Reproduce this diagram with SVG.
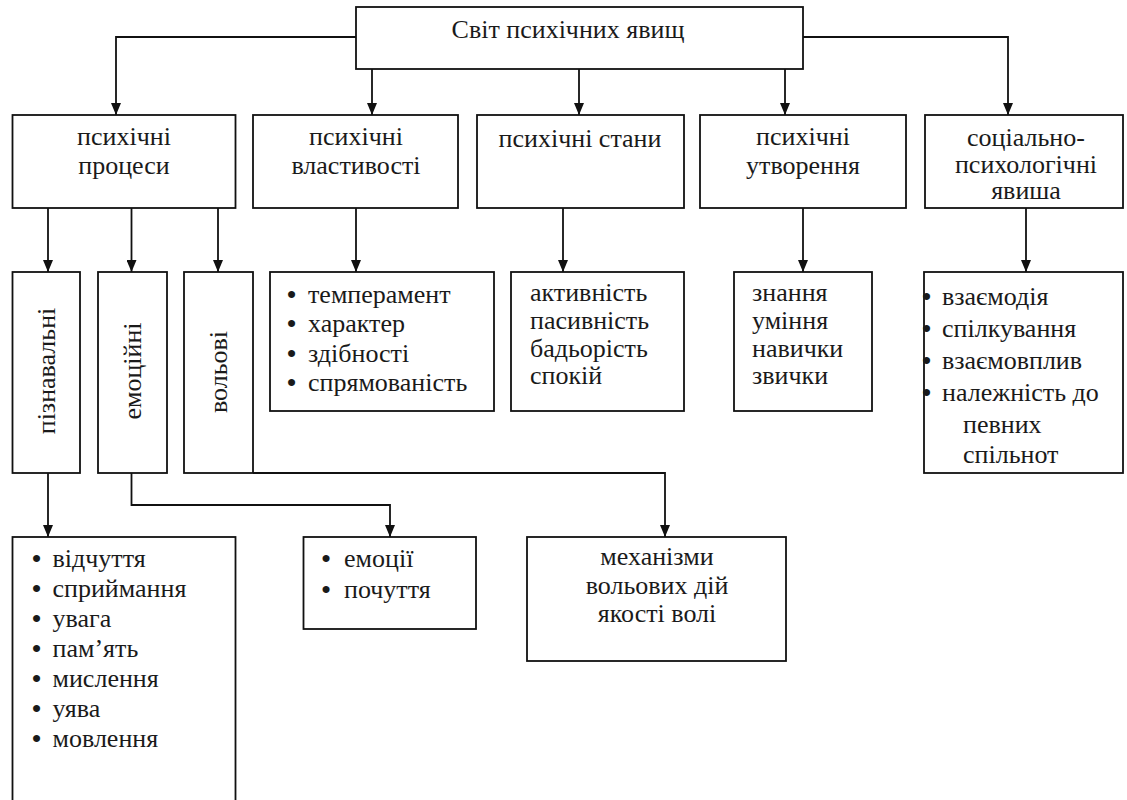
<svg xmlns="http://www.w3.org/2000/svg" width="1127" height="800" viewBox="0 0 1127 800">
<style>
.box{fill:#fff;stroke:#111;stroke-width:1.8}
.ln{fill:none;stroke:#111;stroke-width:1.8}
.t{font-family:"Liberation Serif","Times New Roman",serif;font-size:26px;fill:#1a1a1a}
.c{text-anchor:middle}
.bl{font-weight:bold}
</style>
<defs>
<marker id="arr" viewBox="0 0 12 10" markerWidth="12" markerHeight="10" refX="12" refY="5" orient="auto" markerUnits="userSpaceOnUse">
<path d="M0,0 L12,5 L0,10 Z" fill="#111"/>
</marker>
</defs>
<rect width="1127" height="800" fill="#fff"/>
<g id="connectors">
<path class="ln" d="M356,37 H116 V115" marker-end="url(#arr)"/>
<path class="ln" d="M372,69 V115" marker-end="url(#arr)"/>
<path class="ln" d="M579,69 V115" marker-end="url(#arr)"/>
<path class="ln" d="M785,69 V115" marker-end="url(#arr)"/>
<path class="ln" d="M803,37 H1008 V115" marker-end="url(#arr)"/>
<path class="ln" d="M48,208 V272" marker-end="url(#arr)"/>
<path class="ln" d="M131.5,208 V272" marker-end="url(#arr)"/>
<path class="ln" d="M218,208 V272" marker-end="url(#arr)"/>
<path class="ln" d="M356,208 V272" marker-end="url(#arr)"/>
<path class="ln" d="M563,208 V272" marker-end="url(#arr)"/>
<path class="ln" d="M803,208 V272" marker-end="url(#arr)"/>
<path class="ln" d="M1026,208 V272" marker-end="url(#arr)"/>
<path class="ln" d="M48,473 V537" marker-end="url(#arr)"/>
<path class="ln" d="M131.5,473 V505 H390 V537" marker-end="url(#arr)"/>
<path class="ln" d="M253,473 H665 V537" marker-end="url(#arr)"/>
</g>
<g id="root">
<rect class="box" x="356" y="7" width="447" height="62"/>
<text class="t c" x="568" y="38">Світ психічних явищ</text>
</g>
<g id="processes">
<rect class="box" x="12.5" y="115" width="223" height="93"/>
<text class="t c"><tspan x="124" y="145">психічні</tspan><tspan x="124" y="174">процеси</tspan></text>
</g>
<g id="properties">
<rect class="box" x="253" y="115" width="205" height="93"/>
<text class="t c"><tspan x="356" y="145">психічні</tspan><tspan x="356" y="174">властивості</tspan></text>
</g>
<g id="states">
<rect class="box" x="477" y="115" width="207" height="93"/>
<text class="t c" x="580" y="147">психічні стани</text>
</g>
<g id="formations">
<rect class="box" x="700" y="115" width="206" height="93"/>
<text class="t c"><tspan x="803" y="145">психічні</tspan><tspan x="803" y="174">утворення</tspan></text>
</g>
<g id="social">
<rect class="box" x="925" y="115" width="198" height="93"/>
<text class="t c"><tspan x="1026" y="146">соціально-</tspan><tspan x="1026" y="172.5">психологічні</tspan><tspan x="1026" y="199">явиша</tspan></text>
</g>
<g id="cognitive">
<rect class="box" x="12.5" y="272" width="67.5" height="201"/>
<text class="t c" transform="translate(55,371) rotate(-90)">пізнавальні</text>
</g>
<g id="emotional">
<rect class="box" x="98" y="272" width="69" height="201"/>
<text class="t c" transform="translate(141,371) rotate(-90)">емоційні</text>
</g>
<g id="volitional">
<rect class="box" x="184" y="272" width="69" height="201"/>
<text class="t c" transform="translate(227,372) rotate(-90)">вольові</text>
</g>
<g id="properties-list">
<rect class="box" x="270" y="272" width="224" height="139"/>
<text class="t"><tspan class="bl" x="287" y="303">•</tspan><tspan x="308" y="303">темперамент</tspan><tspan class="bl" x="287" y="332">•</tspan><tspan x="308" y="332">характер</tspan><tspan class="bl" x="287" y="362">•</tspan><tspan x="308" y="362">здібності</tspan><tspan class="bl" x="287" y="391">•</tspan><tspan x="308" y="391">спрямованість</tspan></text>
</g>
<g id="states-list">
<rect class="box" x="511" y="272" width="173" height="139"/>
<text class="t"><tspan x="530" y="301">активність</tspan><tspan x="530" y="329">пасивність</tspan><tspan x="530" y="357">бадьорість</tspan><tspan x="530" y="384">спокій</tspan></text>
</g>
<g id="formations-list">
<rect class="box" x="734" y="272" width="138" height="139"/>
<text class="t"><tspan x="752" y="301">знання</tspan><tspan x="752" y="329">уміння</tspan><tspan x="752" y="357">навички</tspan><tspan x="752" y="384">звички</tspan></text>
</g>
<g id="social-list">
<rect class="box" x="924" y="272" width="199" height="201"/>
<text class="t"><tspan class="bl" x="922" y="305">•</tspan><tspan x="942" y="305">взаємодія</tspan><tspan class="bl" x="922" y="337">•</tspan><tspan x="942" y="337">спілкування</tspan><tspan class="bl" x="922" y="369">•</tspan><tspan x="942" y="369">взаємовплив</tspan><tspan class="bl" x="922" y="401">•</tspan><tspan x="942" y="401">належність до</tspan><tspan x="963" y="433">певних</tspan><tspan x="963" y="463">спільнот</tspan></text>
</g>
<g id="cognitive-list">
<rect class="box" x="12.5" y="537" width="223" height="290"/>
<text class="t"><tspan class="bl" x="32" y="567">•</tspan><tspan x="52.5" y="567">відчуття</tspan><tspan class="bl" x="32" y="597">•</tspan><tspan x="52.5" y="597">сприймання</tspan><tspan class="bl" x="32" y="627">•</tspan><tspan x="52.5" y="627">увага</tspan><tspan class="bl" x="32" y="657">•</tspan><tspan x="52.5" y="657">пам’ять</tspan><tspan class="bl" x="32" y="687">•</tspan><tspan x="52.5" y="687">мислення</tspan><tspan class="bl" x="32" y="717">•</tspan><tspan x="52.5" y="717">уява</tspan><tspan class="bl" x="32" y="747">•</tspan><tspan x="52.5" y="747">мовлення</tspan></text>
</g>
<g id="emotions-list">
<rect class="box" x="303.5" y="537" width="172.5" height="92"/>
<text class="t"><tspan class="bl" x="321.5" y="567">•</tspan><tspan x="344" y="567">емоції</tspan><tspan class="bl" x="321.5" y="598">•</tspan><tspan x="344" y="598">почуття</tspan></text>
</g>
<g id="will-list">
<rect class="box" x="527" y="537" width="259" height="124"/>
<text class="t c"><tspan x="657" y="565">механізми</tspan><tspan x="657" y="594">вольових дій</tspan><tspan x="657" y="622">якості волі</tspan></text>
</g>
</svg>
